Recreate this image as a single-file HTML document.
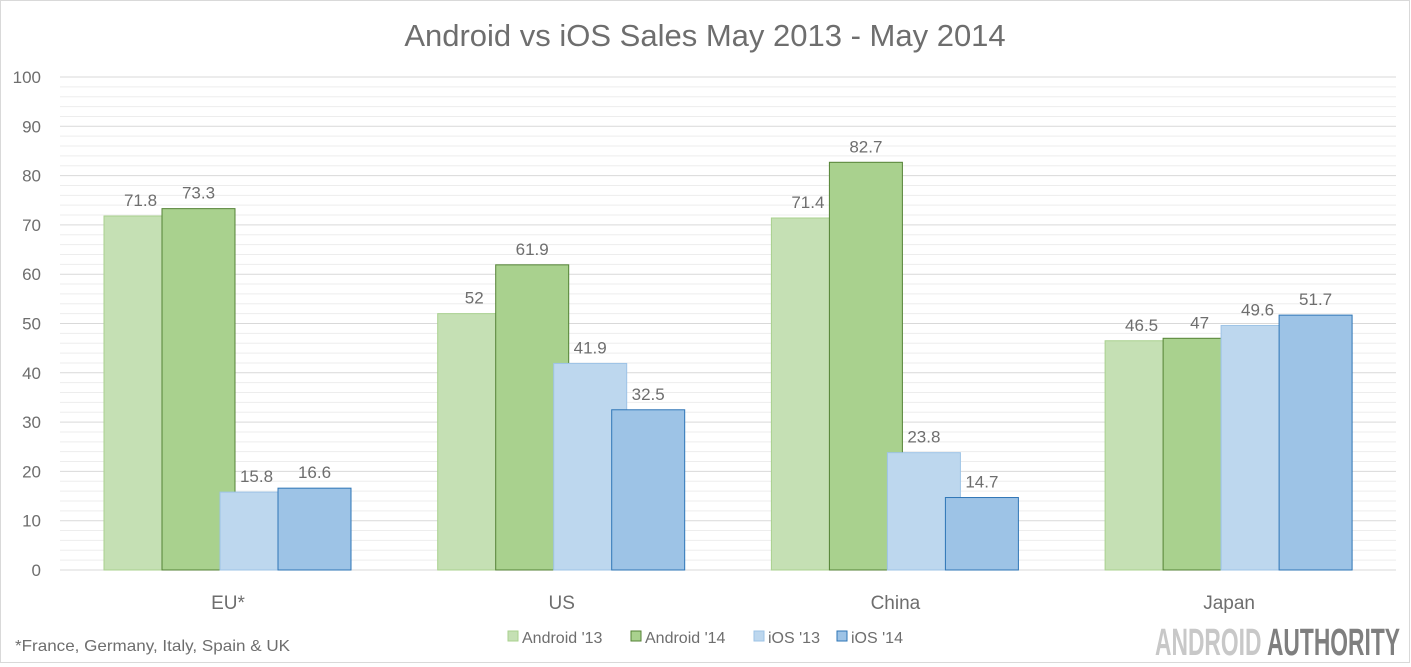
<!DOCTYPE html>
<html><head><meta charset="utf-8"><style>
html,body{margin:0;padding:0;background:#fff}
svg{display:block;font-family:"Liberation Sans",sans-serif}
</style></head><body>
<svg id="c" width="1411" height="667" viewBox="0 0 1411 667" xmlns="http://www.w3.org/2000/svg">
<rect x="0.5" y="0.5" width="1409" height="662" fill="#fff" stroke="#d9d9d9"/>
<text x="705" y="46" text-anchor="middle" font-size="31" fill="#6e6e6e">Android  vs iOS Sales May 2013 - May 2014</text>
<g id="g"></g>
<text x="15" y="651" font-size="16" fill="#6e6e6e" textLength="275" lengthAdjust="spacingAndGlyphs">*France, Germany, Italy, Spain &amp; UK</text>
<g font-size="16" fill="#6e6e6e">
<rect x="508" y="631" width="10" height="10" fill="#c5e0b4" stroke="#a9d18e"/><text x="522" y="643">Android '13</text>
<rect x="631" y="631" width="10" height="10" fill="#a9d18e" stroke="#548235"/><text x="645" y="643">Android '14</text>
<rect x="754" y="631" width="10" height="10" fill="#bdd7ee" stroke="#9dc3e6"/><text x="768" y="643">iOS '13</text>
<rect x="837" y="631" width="10" height="10" fill="#9dc3e6" stroke="#2e75b6"/><text x="851" y="643">iOS '14</text>
</g>
<text x="1155" y="655" font-family="'Liberation Sans Narrow','Liberation Sans',sans-serif" font-weight="bold" font-size="38" textLength="245" lengthAdjust="spacingAndGlyphs"><tspan fill="#c8c8c8">ANDROID </tspan><tspan fill="#7f7f7f">AUTHORITY</tspan></text>
</svg>
<script>
var g=document.getElementById('g'),s='';
var y0=570,k=4.93;
for(var v=0;v<=100;v+=2){var y=y0-v*k;var maj=v%10==0;
 s+='<line x1="60" x2="1396" y1="'+y+'" y2="'+y+'" stroke="'+(maj?'#d9d9d9':'#ededed')+'" stroke-width="1"/>';
 if(maj)s+='<text x="41" y="'+(y+6)+'" text-anchor="end" font-size="17" fill="#6e6e6e">'+v+'</text>';}
var data=[[71.8,73.3,15.8,16.6],[52,61.9,41.9,32.5],[71.4,82.7,23.8,14.7],[46.5,47,49.6,51.7]];
var cats=['EU*','US','China','Japan'];
var fill=['#c5e0b4','#a9d18e','#bdd7ee','#9dc3e6'],st=['#a9d18e','#548235','#9dc3e6','#2e75b6'];
for(var c=0;c<4;c++){var b=104+c*333.7;
 for(var i=0;i<4;i++){var x=b+i*58,h=data[c][i]*k;
  s+='<rect x="'+x+'" y="'+(y0-h)+'" width="73" height="'+h+'" fill="'+fill[i]+'" stroke="'+st[i]+'" stroke-width="1"/>';
  s+='<text x="'+(x+36.5)+'" y="'+(y0-h-10)+'" text-anchor="middle" font-size="17" fill="#6e6e6e">'+data[c][i]+'</text>';}
 s+='<text x="'+(b+124)+'" y="609" text-anchor="middle" font-size="19" fill="#6e6e6e">'+cats[c]+'</text>';}
g.innerHTML=s;
</script>
</body></html>
